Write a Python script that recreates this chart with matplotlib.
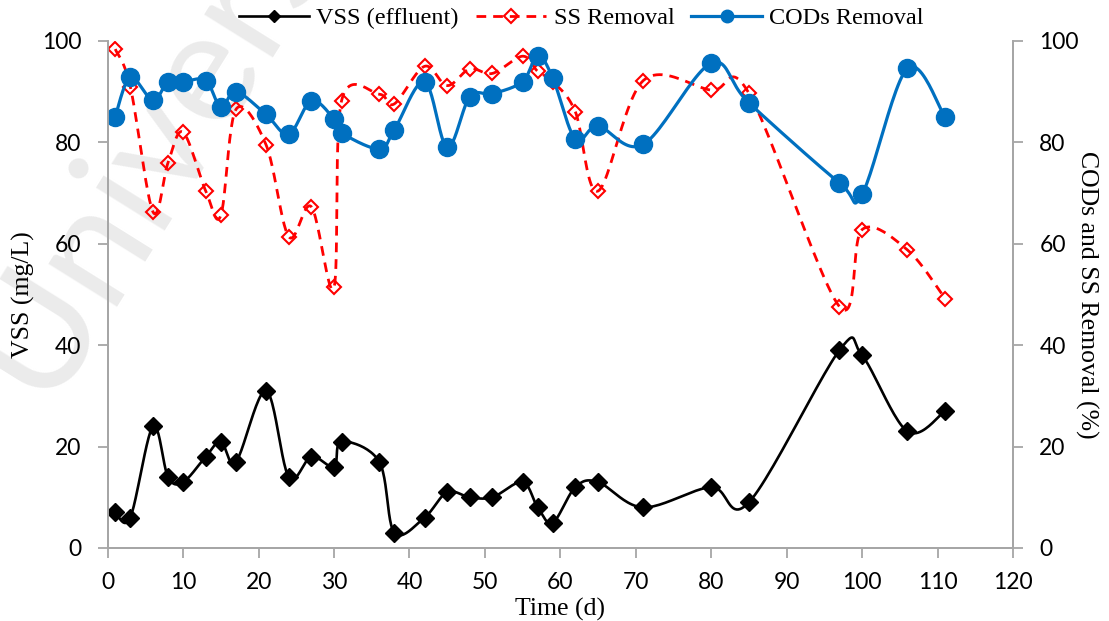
# VSS del efluente y eficiencias de remoción (SS y CODs) en el tiempo
import numpy as np
import matplotlib.pyplot as plt

# datos
time = [1, 3, 6, 8, 10, 13, 15, 17, 21, 24, 27, 30, 31, 36, 38, 42, 45, 48,
        51, 55, 57, 59, 62, 65, 71, 80, 85, 97, 100, 106, 111]
vss = [7, 6, 24, 14, 13, 18, 21, 17, 31, 14, 18, 16, 21, 17, 3, 6, 11, 10,
       10, 13, 8, 5, 12, 13, 8, 12, 9, 39, 38, 23, 27]
ss_removal = [98.4, 91, 66.3, 76, 82, 70.4, 65.6, 86.5, 79.5, 61.4, 67.3,
              51.4, 88.2, 89.5, 87.6, 95, 91.2, 94.5, 93.6, 97, 94, 92,
              86, 70.4, 92.2, 90.3, 89.7, 47.6, 62.8, 58.8, 49.2]
cod_removal = [85.1, 92.8, 88.3, 92, 92, 92.2, 86.9, 90, 85.5, 81.6, 88.2,
               84.6, 81.9, 78.7, 82.5, 92, 79, 89, 89.6, 92, 97.1, 92.7,
               80.6, 83.2, 79.6, 95.6, 87.8, 72, 69.8, 94.6, 85]

xticks = list(range(0, 121, 10))
yticks = list(range(0, 101, 20))


def suavizar(x, y, n=25):
    # curva tipo Excel: bezier cubica con puntos de control a 1/6
    x = np.asarray(x, float)
    y = np.asarray(y, float)
    P = np.column_stack([x, y])
    t = np.linspace(0, 1, n)[:, None]
    out = []
    for i in range(len(P) - 1):
        p0 = P[i - 1] if i > 0 else P[i]
        p1 = P[i]
        p2 = P[i + 1]
        p3 = P[i + 2] if i + 2 < len(P) else P[i + 1]
        c1 = p1 + (p2 - p0) / 6
        c2 = p2 - (p3 - p1) / 6
        seg = ((1 - t) ** 3) * p1 + 3 * ((1 - t) ** 2) * t * c1 \
            + 3 * (1 - t) * t ** 2 * c2 + t ** 3 * p2
        out.append(seg if i == 0 else seg[1:])
    out = np.vstack(out)
    return out[:, 0], out[:, 1]


serif = 'Liberation Serif'
gris = '#a6a6a6'

fig = plt.figure(figsize=(11.09, 6.21), dpi=100)
ax = fig.add_axes([0.0971, 0.1176, 0.8163, 0.8164])
ax2 = ax.twinx()
ax.patch.set_alpha(0)
ax2.patch.set_alpha(0)

# marca de agua
fig.text(0.04, 0.35, 'Univers', rotation=58, rotation_mode='anchor',
         ha='left', va='baseline', fontsize=115, family='Lato',
         color='#ebebeb', zorder=-5)

# VSS
xs, ys = suavizar(time, vss)
ax.plot(xs, ys, color='black', lw=1.9)
ax.plot(time, vss, ls='none', marker='D', ms=9.5, color='black')

# SS removal
xs, ys = suavizar(time, ss_removal)
ax2.plot(xs, ys, color='red', lw=2, dashes=(3.5, 2.5))
ax2.plot(time, ss_removal, ls='none', marker='D', ms=7, mfc='none',
         mec='red', mew=1.5)

# CODs removal
xs, ys = suavizar(time, cod_removal)
ax2.plot(xs, ys, color='#0070C0', lw=2.3)
ax2.plot(time, cod_removal, ls='none', marker='o', ms=13, color='#0070C0')

for a in (ax, ax2):
    a.set_xlim(0, 120)
    a.set_ylim(0, 100)
    a.set_yticks(yticks)
    a.spines['top'].set_visible(False)
    for s in ('left', 'right', 'bottom'):
        a.spines[s].set_color(gris)
        a.spines[s].set_linewidth(1.3)
    for lab in a.get_yticklabels() + a.get_xticklabels():
        lab.set_family('Lato')
        lab.set_fontsize(16.5)

ax.set_xticks(xticks)
ax.tick_params(axis='both', direction='out', length=7, width=1.3,
               color=gris, pad=10)
ax.tick_params(axis='y', pad=12)
ax2.tick_params(axis='y', direction='out', length=7, width=1.3, color=gris,
                pad=12)

ax.set_xlabel('Time (d)', family=serif, fontsize=18.5, labelpad=4)
ax.set_ylabel('VSS (mg/L)', family=serif, fontsize=18.5, labelpad=5)
ax2.set_ylabel('CODs and SS Removal (%)', family=serif, fontsize=18.5,
               rotation=270, labelpad=14)

# leyenda
h1 = plt.Line2D([], [], color='black', lw=1.9, marker='D', ms=6)
h2 = plt.Line2D([], [], color='red', lw=2, dashes=(3.5, 2.5), marker='D',
                ms=7, mfc='none', mec='red', mew=1.5)
h3 = plt.Line2D([], [], color='#0070C0', lw=2.3, marker='o', ms=9)
fig.legend([h1, h2, h3], ['VSS (effluent)', 'SS Removal', 'CODs Removal'],
           loc='center', bbox_to_anchor=(0.524, 0.971), ncol=3,
           frameon=False, prop={'family': serif, 'size': 17.5},
           handlelength=2.9, handletextpad=0.3, columnspacing=0.7)

fig.savefig('out.png', dpi=100)
